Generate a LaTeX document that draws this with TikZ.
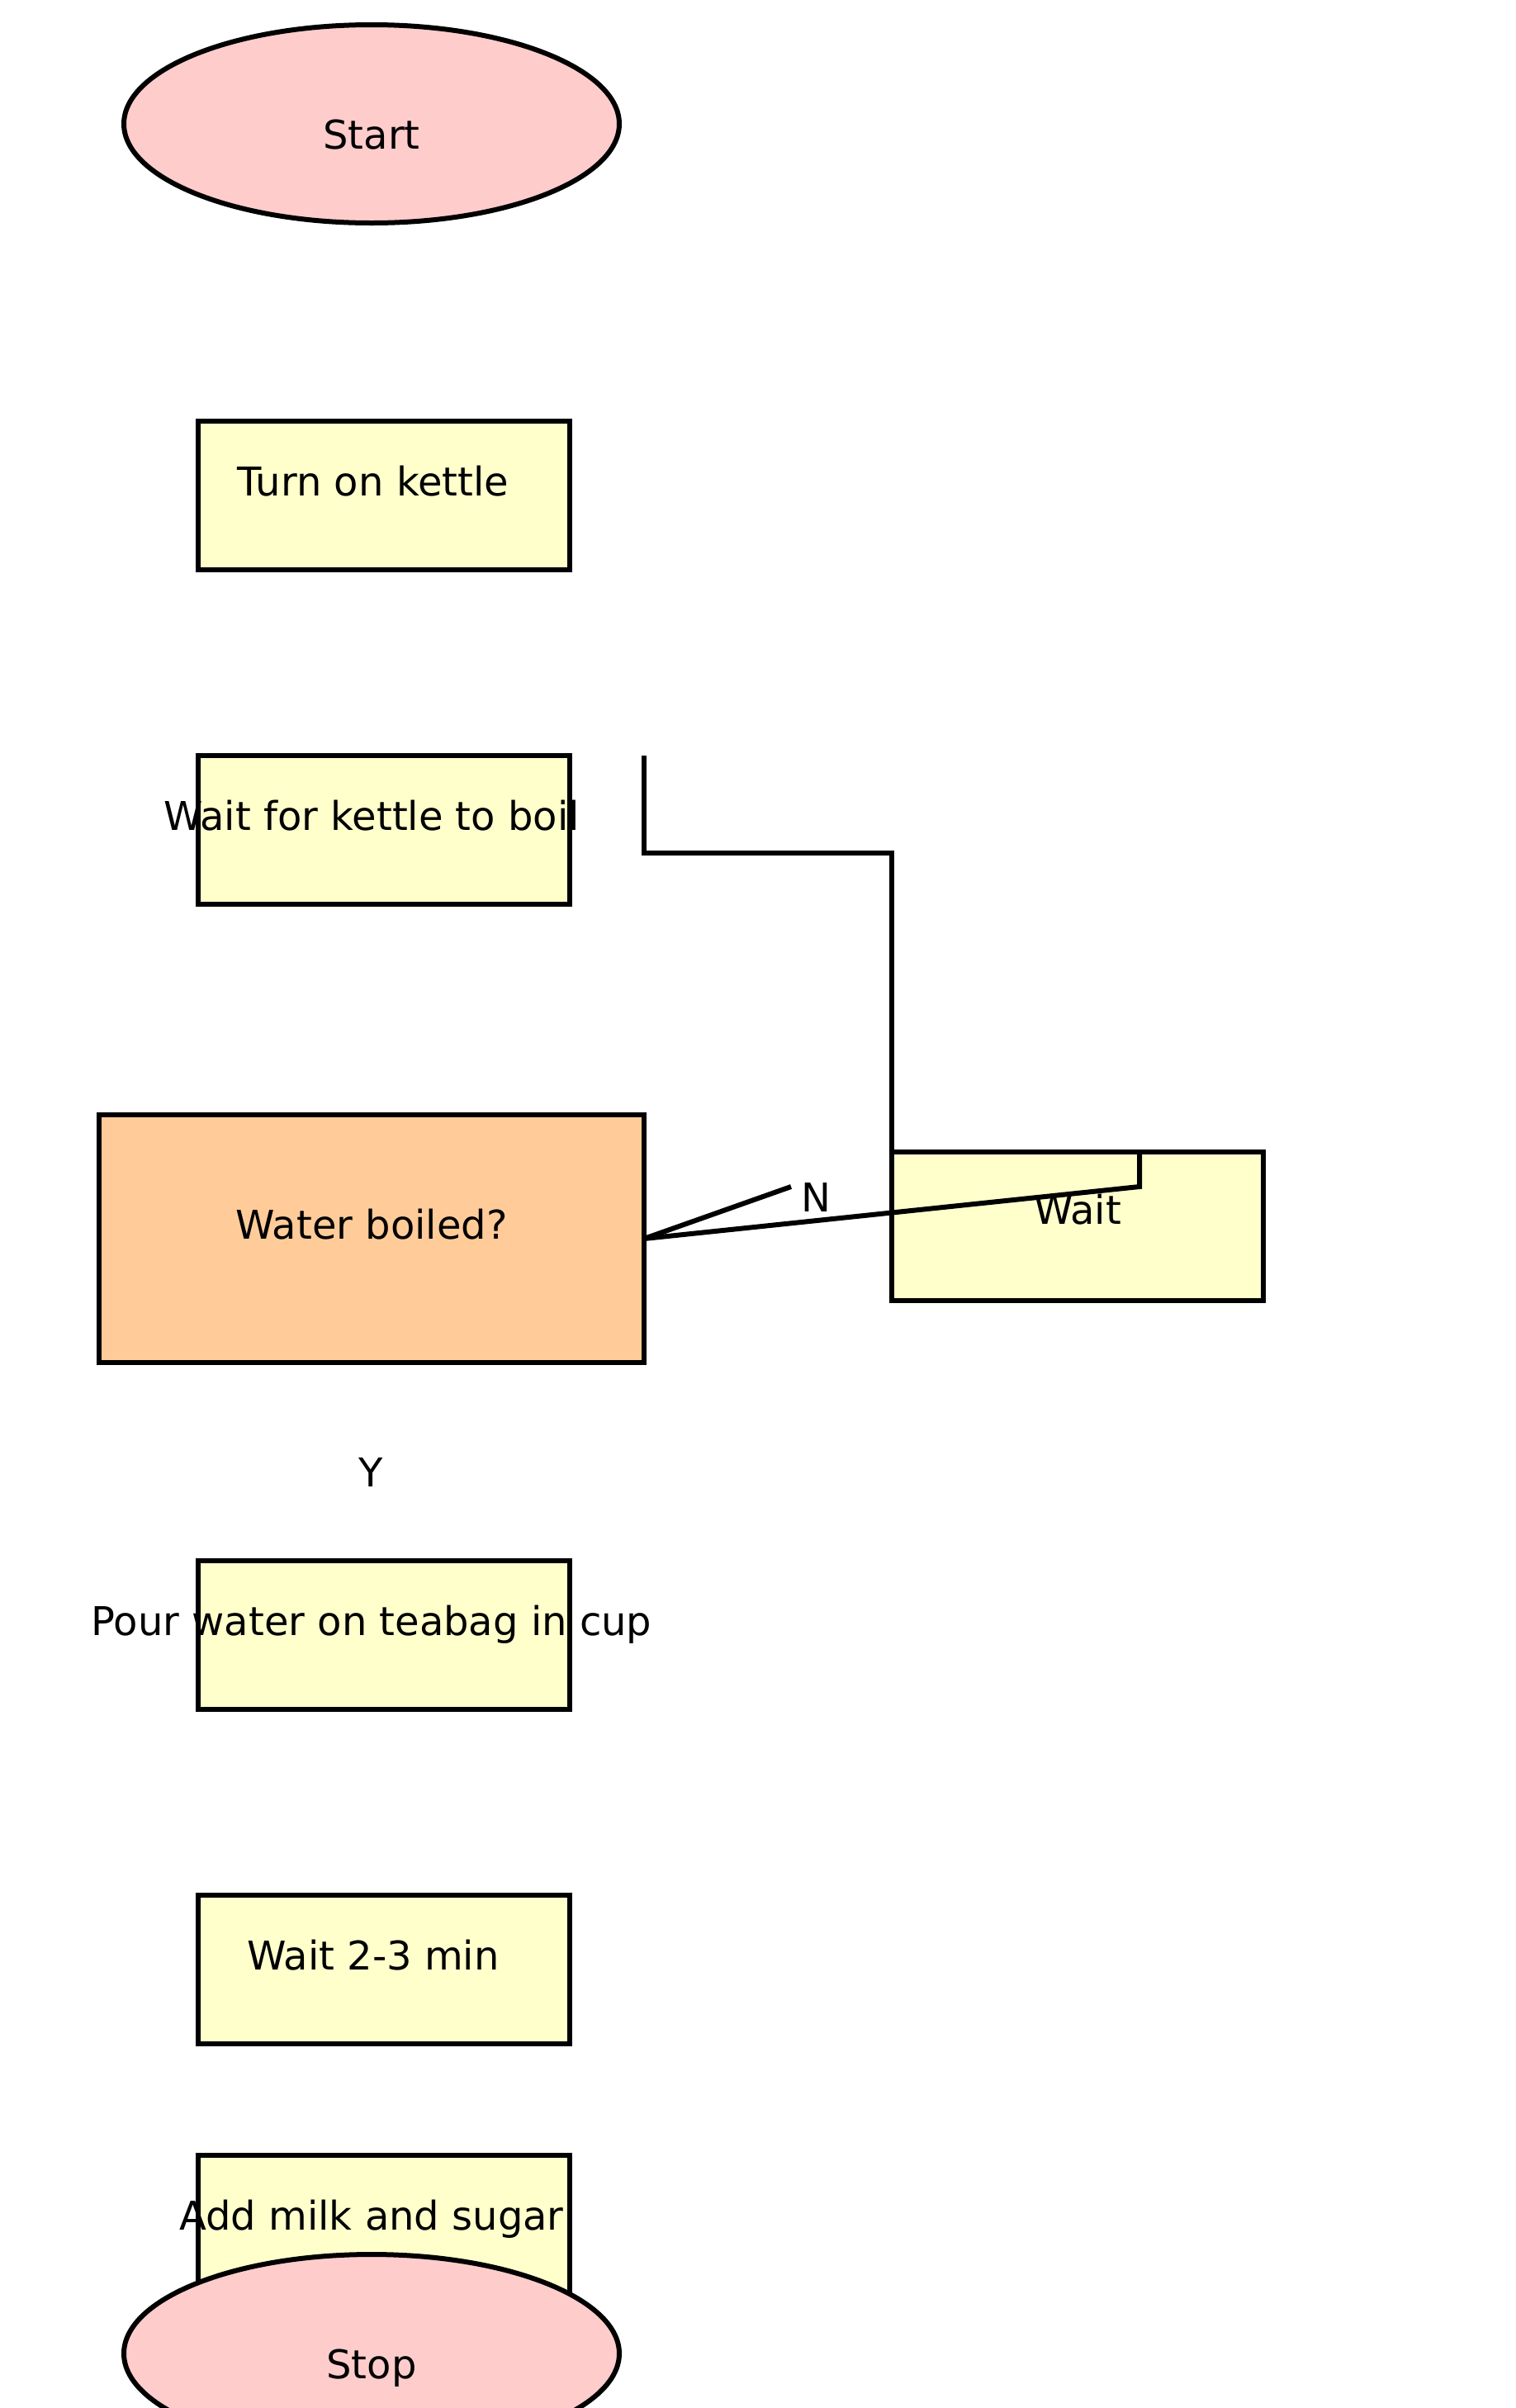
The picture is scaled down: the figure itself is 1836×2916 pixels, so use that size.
\documentclass[tikz,border=0pt]{standalone}
\usepackage{fontspec}
\setmainfont{DejaVu Sans}
\usetikzlibrary{shapes.geometric}
\definecolor{termpink}{HTML}{FFCCCC}
\definecolor{taskyellow}{HTML}{FFFFCC}
\definecolor{askorange}{HTML}{FFCC99}
\begin{document}
\begin{tikzpicture}[x=1pt,y=-1pt]
    \tikzstyle{terminal node}=[ellipse,draw,line width=6pt,fill=termpink,minimum width=600pt,minimum height=240pt,inner sep=0,outer sep=0]
    \tikzstyle{task node}=[rectangle,draw,line width=6pt,fill=taskyellow,minimum width=450pt,minimum height=180pt,inner sep=0,outer sep=0]
    \tikzset{
    ask node/.style={rectangle,draw,line width=6pt,fill=askorange,minimum width=660pt,minimum height=300pt,inner sep=0,outer sep=0},
    caption/.style={anchor=base,inner sep=0,font=\fontsize{48}{58}\selectfont},
    link/.style={line width=6pt}
    }
    \useasboundingbox (0,0) rectangle (1836,2916);
    % shapes
    \node[terminal node] (start) at (450,150) {};
    \node[task node] (kettle) at (465,600) {};
    \node[task node] (boil) at (465,1005) {};
    \node[ask node] (boiled) at (450,1500) {};
    \node[task node] (wait) at (1305,1485) {};
    \node[task node] (pour) at (465,1980) {};
    \node[task node] (steep) at (465,2385) {};
    \node[task node] (milk) at (465,2700) {};
    \node[terminal node] (stop) at (450,2850) {};
    % texts
    \node[caption] (start-txt) at (450,180) {Start};
    \node[caption] (kettle-txt) at (452,600) {Turn on kettle};
    \node[caption] (boil-txt) at (450,1005) {Wait for kettle to boil};
    \node[caption] (boiled-txt) at (450,1500) {Water boiled?};
    \node[caption] (wait-txt) at (1305,1482) {Wait};
    \node[caption] (pour-txt) at (450,1980) {Pour water on teabag in cup};
    \node[caption] (steep-txt) at (452,2385) {Wait 2-3 min};
    \node[caption] (milk-txt) at (450,2700) {Add milk and sugar};
    \node[caption] (stop-txt) at (450,2880) {Stop};
    \node[caption] (no-txt) at (988,1467) {N};
    \node[caption] (yes-txt) at (449,1800) {Y};
    % connectors
    \coordinate (jog) at (780,1033);
    \coordinate (hook) at (1380,1437);
    \coordinate (no-tip) at (958,1437);
    \draw[link] (boiled.east |- boil.north) -- (jog) -- (jog -| wait.north west) -- (wait.north west);
    \draw[link] (wait.north -| hook) -- (hook) -- (boiled.east);
    \draw[link] (boiled.east) -- (no-tip);
\end{tikzpicture}
\end{document}
